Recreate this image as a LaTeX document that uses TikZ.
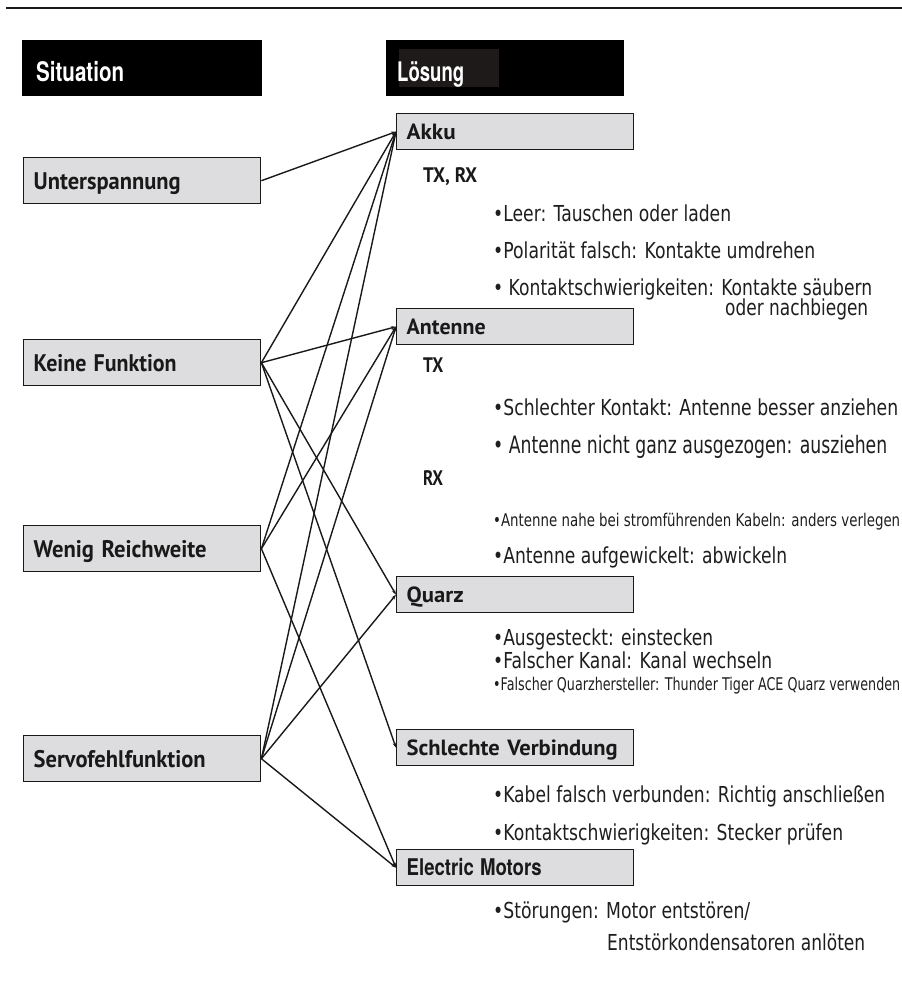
\documentclass[tikz,border=0pt]{standalone}
\usepackage{fontspec}
\usepackage{graphicx}
\usetikzlibrary{arrows.meta}
\newfontfamily\hdrfont{TeX Gyre Heros}
\newfontfamily\lblfont{PT Sans}
\newfontfamily\bulfont{DejaVu Sans}
\newcommand{\fitw}[2]{\resizebox{#1pt}{\height}{#2}}
\definecolor{boxgray}{RGB}{221,221,223}
\definecolor{ink}{RGB}{25,25,25}
\definecolor{txt}{RGB}{30,30,30}
\definecolor{hdrinner}{RGB}{30,26,26}
\tikzset{
  hbox/.style={fill=black, draw=none, anchor=north west, minimum width=238pt, minimum height=56pt,
    text width=212pt, align=left, inner ysep=0pt, text=white,
    font=\hdrfont\bfseries\fontsize{27}{27}\selectfont, text height=26pt, text depth=0pt},
  lbox/.style={draw=ink, line width=1.4pt, fill=boxgray, anchor=north west, minimum width=237pt,
    minimum height=46pt, text width=217pt, inner xsep=10pt, inner ysep=0pt, align=left,
    font=\lblfont\bfseries\fontsize{24}{24}\selectfont, text=ink, text height=23pt, text depth=5pt},
  rbox/.style={draw=ink, line width=1.4pt, fill=boxgray, anchor=north west, minimum width=237pt,
    minimum height=36pt, text width=217pt, inner xsep=10pt, inner ysep=0pt, align=left,
    font=\lblfont\bfseries\fontsize{22}{22}\selectfont, text=ink, text height=21pt, text depth=5pt},
  sublbl/.style={anchor=base west, inner sep=0pt, text=ink, font=\lblfont\bfseries\fontsize{21}{21}\selectfont},
  btxt/.style={anchor=base west, inner sep=0pt, text=txt, font=\bulfont\fontsize{22}{22}\selectfont},
  bsmall/.style={btxt, font=\bulfont\fontsize{17.5}{17.5}\selectfont},
  conn/.style={draw=ink, line width=1.4pt, -{Stealth[length=5pt,width=3.5pt]}}
}
\begin{document}
\begin{tikzpicture}[x=1pt,y=-1pt]
\useasboundingbox (0,0) rectangle (902,1007);
\draw[line width=2pt, ink] (6,8) -- (902,8);

% headers
\node[hbox, inner xsep=14pt] (sit) at (22,40) {\fitw{88}{Situation}};
\node[hbox, inner xsep=11pt, text width=216pt,
  path picture={\fill[hdrinner] ([xshift=13pt,yshift=-9pt]path picture bounding box.north west)
     rectangle ([xshift=113pt,yshift=-47pt]path picture bounding box.north west);}]
  (loes) at (386,40) {\fitw{67}{Lösung}};

% left boxes
\node[lbox] (unter) at (23,157) {\fitw{147}{Unterspannung}};
\node[lbox] (keine) at (23,339) {\fitw{143}{Keine Funktion}};
\node[lbox] (wenig) at (23,525) {\fitw{173}{Wenig Reichweite}};
\node[lbox] (servo) at (23,735) {\fitw{172}{Servofehlfunktion}};

% right boxes
\node[rbox] (akku) at (396,113) {\fitw{49}{Akku}};
\node[rbox] (ant) at (396,308) {\fitw{79}{Antenne}};
\node[rbox] (quarz) at (396,576) {\fitw{57}{Quarz}};
\node[rbox] (schl) at (396,729) {\fitw{211}{Schlechte Verbindung}};
\node[rbox, font=\hdrfont\bfseries\fontsize{23}{23}\selectfont] (motor) at (396,849) {\fitw{135}{Electric Motors}};

% sub labels
\node[sublbl] (txrx) at (423,182) {\fitw{54}{TX, RX}};
\node[sublbl] (tx) at (423,372) {\fitw{20}{TX}};
\node[sublbl] (rx) at (423,485) {\fitw{20}{RX}};

% bullet texts
\node[btxt] (b1) at (493,221) {\fitw{238}{•Leer: Tauschen oder laden}};
\node[btxt] (b2) at (493,258) {\fitw{322}{•Polarität falsch: Kontakte umdrehen}};
\node[btxt] (b3) at (493,295) {\fitw{379}{• Kontaktschwierigkeiten: Kontakte säubern}};
\node[btxt] (b3b) at (725,315) {\fitw{143}{oder nachbiegen}};
\node[btxt] (b4) at (493,415) {\fitw{405}{•Schlechter Kontakt: Antenne besser anziehen}};
\node[btxt, font=\bulfont\fontsize{24}{24}\selectfont] (b5) at (493,453) {\fitw{394}{• Antenne nicht ganz ausgezogen: ausziehen}};
\node[bsmall] (b6) at (493,526) {\fitw{407}{•Antenne nahe bei stromführenden Kabeln: anders verlegen}};
\node[btxt] (b7) at (493,563) {\fitw{294}{•Antenne aufgewickelt: abwickeln}};
\node[btxt] (b8) at (493,645) {\fitw{220}{•Ausgesteckt: einstecken}};
\node[btxt] (b9) at (493,668) {\fitw{279}{•Falscher Kanal: Kanal wechseln}};
\node[bsmall] (b10) at (493,690) {\fitw{407}{•Falscher Quarzhersteller: Thunder Tiger ACE Quarz verwenden}};
\node[btxt] (b11) at (493,802) {\fitw{392}{•Kabel falsch verbunden: Richtig anschließen}};
\node[btxt] (b12) at (493,840) {\fitw{350}{•Kontaktschwierigkeiten: Stecker prüfen}};
\node[btxt] (b13) at (493,918) {\fitw{257}{•Störungen: Motor entstören/}};
\node[btxt] (b13b) at (607,950) {\fitw{258}{Entstörkondensatoren anlöten}};

% connectors
\draw[conn] (unter.east) -- (akku.west);
\draw[conn] (keine.east) -- (akku.west);
\draw[conn] (keine.east) -- (ant.west);
\draw[conn] (keine.east) -- (quarz.west);
\draw[conn] (keine.east) -- (schl.west);
\draw[conn] (wenig.east) -- (akku.west);
\draw[conn] (wenig.east) -- (ant.west);
\draw[conn] (wenig.east) -- (motor.west);
\draw[conn] (servo.east) -- (akku.west);
\draw[conn] (servo.east) -- (ant.west);
\draw[conn] (servo.east) -- (quarz.west);
\draw[conn] (servo.east) -- (motor.west);
\end{tikzpicture}
\end{document}
